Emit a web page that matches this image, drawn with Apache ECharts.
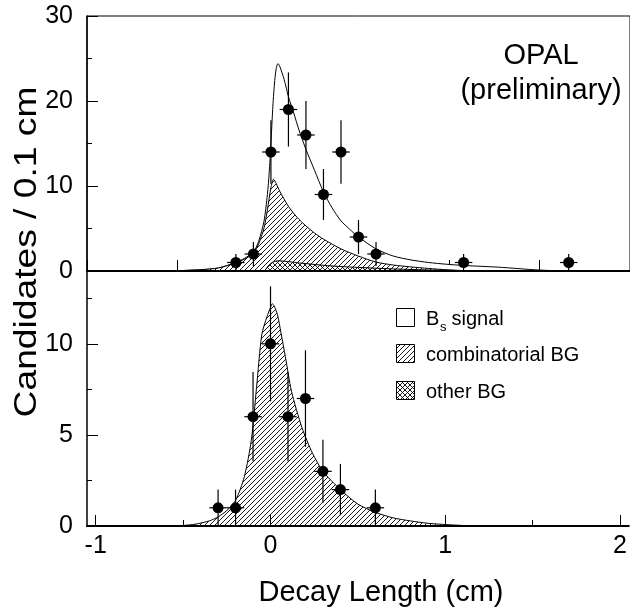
<!DOCTYPE html>
<html><head><meta charset="utf-8">
<script src="https://cdn.jsdelivr.net/npm/echarts@6/dist/echarts.min.js"></script>
<style>html,body{margin:0;padding:0;background:#fff}#c{width:630px;height:614px}</style>
</head><body><div id="c"></div>
<script>
// ---- data ----
const topPointsX = [-0.2, -0.1, 0, 0.1, 0.2, 0.3, 0.4, 0.5, 0.6, 1.1, 1.7];
const topPointsY = [1, 2, 14, 19, 16, 9, 14, 4, 2, 1, 1];
const topPointsErr = [1, 1.41, 3.74, 4.36, 4, 3, 3.74, 2, 1.41, 1, 1];

const botPointsX = [-0.3, -0.2, -0.1, 0, 0.1, 0.2, 0.3, 0.4, 0.6];
const botPointsY = [1, 1, 6, 10, 6, 7, 3, 2, 1];
const botPointsErr = [1, 1, 2.45, 3.16, 2.45, 2.65, 1.73, 1.41, 1];

const binHalfWidth = 0.05;

// total fit (Bs signal + backgrounds), top panel
const topTotalX = [-1.05,-0.6,-0.5,-0.4,-0.3,-0.2,-0.15,-0.1,-0.07,-0.04,-0.02,-0.01,0,0.01,0.02,0.03,0.04,0.05,0.076,0.1,0.13,0.16,0.2,0.25,0.3,0.35,0.4,0.45,0.5,0.6,0.7,0.8,0.9,1.0,1.1,1.2,1.3,1.4,1.5,1.6,1.7,2.05];
const topTotalY = [0,0.02,0.06,0.15,0.35,1.0,1.5,2.2,3.5,5.8,9.0,11.5,15.0,19.0,22.0,23.8,24.4,24.1,22.5,20.5,18.6,16.6,14.3,11.8,9.3,7.4,5.9,4.9,4.0,2.6,1.75,1.3,1.0,0.8,0.65,0.55,0.45,0.3,0.15,0.05,0,0];
// combinatorial BG boundary (drawn over other BG), top panel
const topCombX = [-1.05,-0.6,-0.5,-0.4,-0.3,-0.2,-0.15,-0.1,-0.07,-0.04,-0.02,0,0.015,0.03,0.05,0.1,0.15,0.2,0.25,0.3,0.4,0.5,0.6,0.7,0.8,0.9,1.0,1.1,1.2,2.05];
const topCombY = [0,0.02,0.06,0.15,0.35,0.95,1.4,2.1,3.2,5.0,7.2,9.8,10.8,10.3,9.4,7.6,6.3,5.3,4.45,3.75,2.6,1.75,1.05,0.7,0.48,0.3,0.15,0.05,0,0];
// other BG, top panel
const topOtherX = [-1.05,-0.04,-0.02,0,0.02,0.04,0.08,0.15,0.2,0.3,0.4,0.5,0.6,0.7,0.8,0.9,1.0,1.1,1.2,2.05];
const topOtherY = [0,0,0.5,0.9,1.12,1.2,1.15,0.97,0.87,0.67,0.52,0.42,0.33,0.25,0.18,0.12,0.08,0.04,0,0];
// combinatorial BG fit, bottom panel
const botCombX = [-1.05,-0.6,-0.5,-0.43,-0.35,-0.3,-0.25,-0.2,-0.15,-0.11,-0.08,-0.05,-0.02,0,0.01,0.02,0.04,0.06,0.085,0.12,0.18,0.24,0.3,0.4,0.5,0.6,0.7,0.8,0.9,1.0,1.1,1.2,2.05];
const botCombY = [0,0,0.03,0.1,0.28,0.5,0.85,1.4,2.7,4.7,7.6,10.5,11.5,12.0,12.2,12.1,11.6,10.6,9.3,7.4,5.4,4.0,3.0,2.0,1.2,0.75,0.45,0.28,0.15,0.08,0.03,0,0];

const xMajorTicks = [-1, 0, 1, 2];
const xMinorTicks = [-0.5, 0.5, 1.5];
const topYTicks = [0, 10, 20, 30];
const botYMajorTicks = [0, 5, 10];
const botYMinorTicks = [2.5, 7.5, 12.5];

// ---- helpers ----
const FONT = "'Liberation Sans', Arial, Helvetica, sans-serif";
function pairs(xs, ys) { return xs.map((x, i) => [x, ys[i]]); }
function triples(xs, ys, es) { return xs.map((x, i) => [x, ys[i], es[i]]); }
function pattern(cross) {
  const s = 5, c = document.createElement('canvas');
  c.width = s; c.height = s;
  const g = c.getContext('2d');
  g.fillStyle = '#fff'; g.fillRect(0, 0, s, s);
  g.strokeStyle = '#000'; g.lineWidth = 0.9;
  g.beginPath();
  g.moveTo(-1, s + 1); g.lineTo(s + 1, -1);
  g.moveTo(-1, 1); g.lineTo(1, -1);
  g.moveTo(s - 1, s + 1); g.lineTo(s + 1, s - 1);
  if (cross) {
    g.moveTo(-1, -1); g.lineTo(s + 1, s + 1);
    g.moveTo(-1, s - 1); g.lineTo(1, s + 1);
    g.moveTo(s - 1, -1); g.lineTo(s + 1, 1);
  }
  g.stroke();
  return { image: c, repeat: 'repeat' };
}
const HATCH = pattern(false), CROSS = pattern(true);

function errRender(params, api) {
  const x = api.value(0), y = api.value(1), e = api.value(2);
  const hi = api.coord([x, y + e]), lo = api.coord([x, y - e]);
  const l = api.coord([x - binHalfWidth, y]), r = api.coord([x + binHalfWidth, y]);
  const st = { stroke: '#000', lineWidth: 1.2 };
  return { type: 'group', children: [
    { type: 'line', shape: { x1: hi[0], y1: hi[1], x2: lo[0], y2: lo[1] }, style: st },
    { type: 'line', shape: { x1: l[0], y1: l[1], x2: r[0], y2: r[1] }, style: st }
  ]};
}
function curve(xi, yi, xs, ys, fill, z) {
  return { type: 'line', xAxisIndex: xi, yAxisIndex: yi, z: z, data: pairs(xs, ys), symbol: 'none',
    smooth: 0.25, lineStyle: { color: '#000', width: 1 }, areaStyle: { color: fill, opacity: 1 } };
}
const noAx = { show: false };
const tickLine = { color: '#000', width: 1 };
const label = { color: '#000', fontSize: 25, fontFamily: FONT };

const L = 87, W = 545;
const chart = echarts.init(document.getElementById('c'), null, { renderer: 'canvas' });
chart.setOption({
  animation: false,
  backgroundColor: '#fff',
  grid: [
    { left: L, top: 16, width: W, height: 255, show: true, borderColor: '#000', borderWidth: 1, backgroundColor: 'transparent' },
    { left: L, top: 271, width: W, height: 255, show: false }
  ],
  xAxis: [
    { gridIndex: 0, type: 'value', min: -1.05, max: 2.05, position: 'bottom', z: 20,
      axisLine: { show: true, onZero: false, lineStyle: { color: '#000', width: 2 } },
      axisTick: noAx, axisLabel: noAx, splitLine: noAx },
    { gridIndex: 0, type: 'value', min: -1, max: 2, interval: 0.5, position: 'bottom',
      axisLine: { show: false, onZero: false }, axisTick: { show: true, inside: true, length: 11, lineStyle: tickLine },
      axisLabel: noAx, splitLine: noAx },
    { gridIndex: 1, type: 'value', min: -1.05, max: 2.05, position: 'bottom', z: 20,
      axisLine: { show: true, onZero: false, lineStyle: { color: '#000', width: 2 } },
      axisTick: { show: true, inside: true, length: 11, lineStyle: tickLine, customValues: xMajorTicks },
      axisLabel: Object.assign({ show: true, margin: 8, customValues: xMajorTicks }, label), splitLine: noAx },
    { gridIndex: 1, type: 'value', min: -1.05, max: 2.05, position: 'bottom',
      axisLine: { show: false, onZero: false },
      axisTick: { show: true, inside: true, length: 6, lineStyle: tickLine, customValues: xMinorTicks },
      axisLabel: noAx, splitLine: noAx }
  ],
  yAxis: [
    { gridIndex: 0, type: 'value', min: 0, max: 30, interval: 10, position: 'left',
      axisLine: { show: true, onZero: false, lineStyle: { color: '#000', width: 1.5 } },
      axisTick: { show: true, inside: true, length: 11, lineStyle: tickLine },
      minorTick: { show: true, splitNumber: 2, length: 5, lineStyle: tickLine },
      axisLabel: Object.assign({ show: true, margin: 14, customValues: topYTicks }, label),
      splitLine: noAx, minorSplitLine: noAx },
    { gridIndex: 1, type: 'value', min: 0, max: 14, position: 'left',
      axisLine: { show: true, onZero: false, lineStyle: { color: '#000', width: 1.5 } },
      axisTick: { show: true, inside: true, length: 11, lineStyle: tickLine, customValues: botYMajorTicks },
      axisLabel: Object.assign({ show: true, margin: 14, customValues: botYMajorTicks }, label),
      splitLine: noAx },
    { gridIndex: 1, type: 'value', min: 0, max: 14, position: 'left',
      axisLine: { show: false, onZero: false },
      axisTick: { show: true, inside: true, length: 5, lineStyle: tickLine, customValues: botYMinorTicks },
      axisLabel: noAx, splitLine: noAx }
  ],
  series: [
    curve(0, 0, topTotalX, topTotalY, '#fff', 2),
    curve(0, 0, topCombX, topCombY, HATCH, 3),
    curve(0, 0, topOtherX, topOtherY, CROSS, 4),
    { type: 'custom', xAxisIndex: 0, yAxisIndex: 0, z: 8, renderItem: errRender,
      encode: { x: 0, y: 1 }, data: triples(topPointsX, topPointsY, topPointsErr) },
    { type: 'scatter', xAxisIndex: 0, yAxisIndex: 0, z: 9, symbolSize: 11, itemStyle: { color: '#000', opacity: 1 },
      data: pairs(topPointsX, topPointsY) },
    curve(2, 1, botCombX, botCombY, HATCH, 3),
    { type: 'custom', xAxisIndex: 2, yAxisIndex: 1, z: 8, renderItem: errRender,
      encode: { x: 0, y: 1 }, data: triples(botPointsX, botPointsY, botPointsErr) },
    { type: 'scatter', xAxisIndex: 2, yAxisIndex: 1, z: 9, symbolSize: 11, itemStyle: { color: '#000', opacity: 1 },
      data: pairs(botPointsX, botPointsY) }
  ],
  graphic: [
    { type: 'text', x: 27, y: 252, rotation: Math.PI / 2, scaleX: 1.2,
      style: { text: 'Candidates / 0.1 cm', fontSize: 31, fontFamily: FONT, fill: '#000',
        align: 'center', verticalAlign: 'middle', textAlign: 'center', textVerticalAlign: 'middle' } },
    { type: 'text', x: 381, y: 593,
      style: { text: 'Decay Length (cm)', fontSize: 29, fontFamily: FONT, fill: '#000',
        align: 'center', verticalAlign: 'middle', textAlign: 'center', textVerticalAlign: 'middle' } },
    { type: 'text', x: 541, y: 56,
      style: { text: 'OPAL', fontSize: 29, fontFamily: FONT, fill: '#000',
        align: 'center', verticalAlign: 'middle', textAlign: 'center', textVerticalAlign: 'middle' } },
    { type: 'text', x: 541, y: 91,
      style: { text: '(preliminary)', fontSize: 29, fontFamily: FONT, fill: '#000',
        align: 'center', verticalAlign: 'middle', textAlign: 'center', textVerticalAlign: 'middle' } },
    // legend
    { type: 'rect', shape: { x: 396.5, y: 308.5, width: 18, height: 18 }, style: { fill: '#fff', stroke: '#000', lineWidth: 1 } },
    { type: 'rect', shape: { x: 396.5, y: 344.5, width: 18, height: 18 }, style: { fill: HATCH, stroke: '#000', lineWidth: 1 } },
    { type: 'rect', shape: { x: 396.5, y: 381.5, width: 18, height: 18 }, style: { fill: CROSS, stroke: '#000', lineWidth: 1 } },
    { type: 'text', x: 426, y: 319, style: { text: 'B', fontSize: 20, fontFamily: FONT, fill: '#000', verticalAlign: 'middle', textVerticalAlign: 'middle' } },
    { type: 'text', x: 440, y: 327, style: { text: 's', fontSize: 13, fontFamily: FONT, fill: '#000', verticalAlign: 'middle', textVerticalAlign: 'middle' } },
    { type: 'text', x: 446, y: 319, style: { text: ' signal', fontSize: 20, fontFamily: FONT, fill: '#000', verticalAlign: 'middle', textVerticalAlign: 'middle' } },
    { type: 'text', x: 426, y: 355, style: { text: 'combinatorial BG', fontSize: 20, fontFamily: FONT, fill: '#000', verticalAlign: 'middle', textVerticalAlign: 'middle' } },
    { type: 'text', x: 426, y: 392, style: { text: 'other BG', fontSize: 20, fontFamily: FONT, fill: '#000', verticalAlign: 'middle', textVerticalAlign: 'middle' } }
  ]
});
</script></body></html>
